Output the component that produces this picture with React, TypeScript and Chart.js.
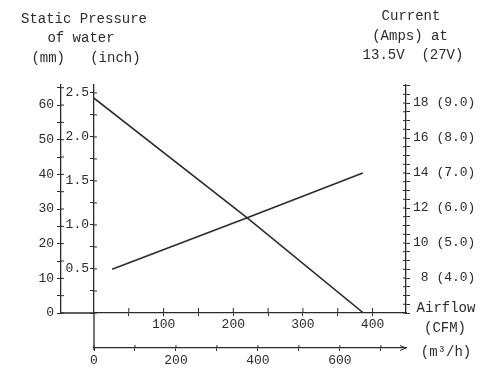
import React, { useEffect, useRef } from "react";
import { Chart, registerables } from "chart.js";

Chart.register(...registerables);

// ---- data ----
const pressureAirflowCfm = [0, 220, 387];
const pressureInch = [2.44, 1.08, 0];

const currentAirflowCfm = [26, 220, 386];
const currentAmps = [8.5, 11.45, 14.0];

// ---- axis ticks / labels ----
const cfmTicks = [50, 100, 150, 200, 250, 300, 350, 400];
const cfmLabelled = [100, 200, 300, 400];
const m3hTicks = [0, 100, 200, 300, 400, 500, 600, 700];
const m3hLabelled = [0, 200, 400, 600];
const mmTicks = [0, 5, 10, 15, 20, 25, 30, 35, 40, 45, 50, 55, 60, 65];
const mmLabelled = [0, 10, 20, 30, 40, 50, 60];
const inchTicks = [0, 0.25, 0.5, 0.75, 1.0, 1.25, 1.5, 1.75, 2.0, 2.25, 2.5];
const inchLabelled = [0.5, 1.0, 1.5, 2.0, 2.5];
const ampTicks = [6, 6.5, 7, 7.5, 8, 8.5, 9, 9.5, 10, 10.5, 11, 11.5, 12, 12.5, 13, 13.5, 14, 14.5, 15, 15.5, 16, 16.5, 17, 17.5, 18, 18.5, 19];
const ampLabelled = [8, 10, 12, 14, 16, 18];
const ampLabels = [" 8 (4.0)", "10 (5.0)", "12 (6.0)", "14 (7.0)", "16 (8.0)", "18 (9.0)"];

// ---- ranges ----
const cfmMax = 448;
const m3hPerCfm = 1.699;
const inchMax = 2.59;
const mmPerInch = 25.4;
const ampMin = 6;
const ampMax = 19.03;

const INK = "#2b2b2b";
const MONO = '"Liberation Mono", "DejaVu Sans Mono", monospace';
const tickFont = { family: MONO, size: 13 };

const near = (a: number, b: number) => Math.abs(a - b) < 1e-6;

const decor = {
  id: "decor",
  afterDraw(chart: any) {
    const { ctx, chartArea, scales } = chart;
    const x = scales.x;
    const x2 = scales.x2;
    const yMm = scales.yMm;
    const yInch = scales.yInch;
    const yAmp = scales.yAmp;
    ctx.save();
    ctx.strokeStyle = INK;
    ctx.fillStyle = INK;
    // baseline extension to the mm axis, and connector down to the m3/h axis
    const y0 = yInch.getPixelForValue(0);
    const x0 = x.getPixelForValue(0);
    ctx.lineWidth = 1.3;
    ctx.beginPath();
    ctx.moveTo(yMm.right, y0);
    ctx.lineTo(chartArea.left, y0);
    ctx.moveTo(x0, y0);
    ctx.lineTo(x0, x2.top + 2);
    ctx.stroke();
    // inward halves of the ticks
    ctx.lineWidth = 1;
    ctx.beginPath();
    for (const t of yMm.ticks) {
      const py = yMm.getPixelForValue(t.value);
      ctx.moveTo(yMm.right, py);
      ctx.lineTo(yMm.right + 3, py);
    }
    for (const t of yInch.ticks) {
      const py = yInch.getPixelForValue(t.value);
      ctx.moveTo(yInch.right, py);
      ctx.lineTo(yInch.right + 3, py);
    }
    for (const t of yAmp.ticks) {
      const py = yAmp.getPixelForValue(t.value);
      ctx.moveTo(yAmp.left, py);
      ctx.lineTo(yAmp.left - 3, py);
    }
    for (const t of x.ticks) {
      const px = x.getPixelForValue(t.value);
      ctx.moveTo(px, y0);
      ctx.lineTo(px, y0 - 5);
    }
    for (const t of x2.ticks) {
      const px = x2.getPixelForValue(t.value);
      ctx.moveTo(px, x2.top);
      ctx.lineTo(px, x2.top - 3);
    }
    // arrow at the end of the m3/h axis
    const ax = x2.right;
    const ay = x2.top;
    ctx.moveTo(ax - 6, ay - 2.5);
    ctx.lineTo(ax, ay);
    ctx.lineTo(ax - 6, ay + 2.5);
    ctx.stroke();

    // titles
    ctx.font = `14px ${MONO}`;
    ctx.textAlign = "center";
    ctx.textBaseline = "middle";
    ctx.fillText("Static Pressure", 84, 19);
    ctx.fillText("of water", 81, 38);
    ctx.fillText("(mm)   (inch)", 86, 58);
    ctx.fillText("Current", 411, 16);
    ctx.fillText("(Amps) at", 410, 36);
    ctx.fillText("13.5V  (27V)", 413, 55);
    ctx.fillText("Airflow", 446, 308);
    ctx.fillText("(CFM)", 445, 328);
    ctx.fillText("(m³/h)", 446, 352);
    ctx.restore();
  },
};

export default function App() {
  const ref = useRef<HTMLCanvasElement | null>(null);

  useEffect(() => {
    if (!ref.current) return;
    const grid = {
      drawOnChartArea: false,
      drawTicks: true,
      color: INK,
      lineWidth: 1,
    };
    const border = { color: INK, width: 1.3 };
    const chart = new Chart(ref.current, {
      type: "line",
      data: {
        datasets: [
          {
            label: "Static pressure",
            data: pressureAirflowCfm.map((v, i) => ({ x: v, y: pressureInch[i] })),
            xAxisID: "x",
            yAxisID: "yInch",
            borderColor: INK,
            borderWidth: 1.6,
            pointRadius: 0,
            tension: 0,
          },
          {
            label: "Current",
            data: currentAirflowCfm.map((v, i) => ({ x: v, y: currentAmps[i] })),
            xAxisID: "x",
            yAxisID: "yAmp",
            borderColor: INK,
            borderWidth: 1.6,
            pointRadius: 0,
            tension: 0,
          },
        ],
      },
      options: {
        animation: false,
        responsive: false,
        devicePixelRatio: 1,
        layout: { padding: { top: 85, left: 0, right: 0, bottom: 0 } },
        plugins: { legend: { display: false }, tooltip: { enabled: false } },
        scales: {
          x: {
            type: "linear",
            position: "bottom",
            weight: 0,
            min: 0,
            max: cfmMax,
            grid: { ...grid, tickLength: 3 },
            border,
            afterBuildTicks: (s: any) => {
              s.ticks = cfmTicks.map((value) => ({ value }));
            },
            afterFit: (s: any) => {
              s.height = 35;
            },
            ticks: {
              autoSkip: false,
              maxRotation: 0,
              padding: 1,
              color: INK,
              font: tickFont,
              callback: (v: any) => (cfmLabelled.some((c) => near(c, v)) ? String(v) : ""),
            },
          },
          x2: {
            type: "linear",
            position: "bottom",
            weight: 1,
            min: 0,
            max: cfmMax * m3hPerCfm,
            grid: { ...grid, tickLength: 3 },
            border,
            afterBuildTicks: (s: any) => {
              s.ticks = m3hTicks.map((value) => ({ value }));
            },
            afterFit: (s: any) => {
              s.height = 21;
            },
            ticks: {
              autoSkip: false,
              maxRotation: 0,
              padding: 2,
              color: INK,
              font: tickFont,
              callback: (v: any) => (m3hLabelled.some((c) => near(c, v)) ? String(v) : ""),
            },
          },
          yMm: {
            type: "linear",
            position: "left",
            weight: 1,
            min: 0,
            max: inchMax * mmPerInch,
            grid: { ...grid, tickLength: 4 },
            border,
            afterBuildTicks: (s: any) => {
              s.ticks = mmTicks.map((value) => ({ value }));
            },
            afterFit: (s: any) => {
              s.width = 61;
            },
            ticks: {
              autoSkip: false,
              padding: 3,
              color: INK,
              font: tickFont,
              callback: (v: any) => (mmLabelled.some((c) => near(c, v)) ? String(v) : ""),
            },
          },
          yInch: {
            type: "linear",
            position: "left",
            weight: 0,
            min: 0,
            max: inchMax,
            grid: { ...grid, tickLength: 4 },
            border,
            afterBuildTicks: (s: any) => {
              s.ticks = inchTicks.map((value) => ({ value }));
            },
            afterFit: (s: any) => {
              s.width = 33;
            },
            ticks: {
              autoSkip: false,
              padding: 1,
              color: INK,
              font: tickFont,
              callback: (v: any) => (inchLabelled.some((c) => near(c, v)) ? Number(v).toFixed(1) : ""),
            },
          },
          yAmp: {
            type: "linear",
            position: "right",
            min: ampMin,
            max: ampMax,
            grid: { ...grid, tickLength: 4 },
            border,
            afterBuildTicks: (s: any) => {
              s.ticks = ampTicks.map((value) => ({ value }));
            },
            afterFit: (s: any) => {
              s.width = 84;
            },
            ticks: {
              autoSkip: false,
              padding: 3,
              color: INK,
              font: tickFont,
              callback: (v: any) => {
                const i = ampLabelled.findIndex((c) => near(c, v));
                return i >= 0 ? ampLabels[i] : "";
              },
            },
          },
        },
      } as any,
      plugins: [decor],
    });
    return () => chart.destroy();
  }, []);

  return (
    <div style={{ position: "absolute", left: 0, top: 0, width: 490, height: 369, background: "#fff" }}>
      <canvas ref={ref} width={490} height={369} style={{ display: "block" }} />
    </div>
  );
}
